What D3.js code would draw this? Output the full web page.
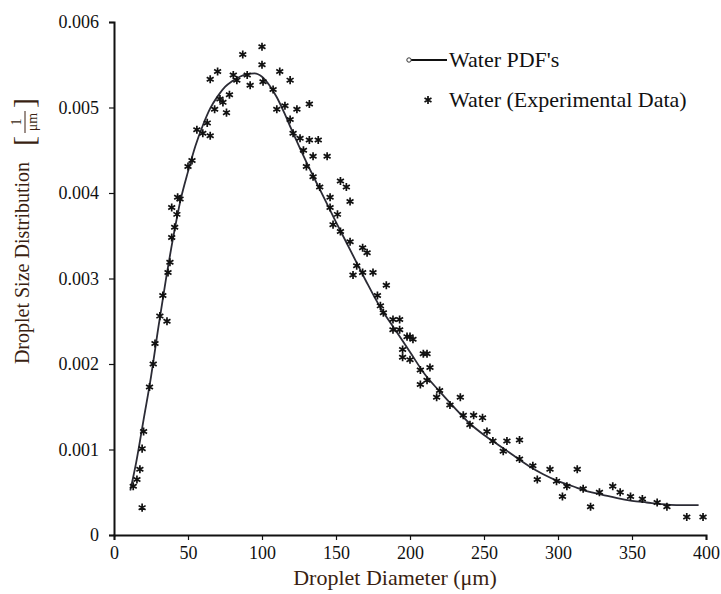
<!DOCTYPE html>
<html>
<head>
<meta charset="utf-8">
<script src="https://cdn.jsdelivr.net/npm/d3@7/dist/d3.min.js"></script>
<style>
  body { margin: 0; background: #fff; }
  svg { display: block; }
  text { font-family: "Liberation Serif", "Times New Roman", serif; }
</style>
</head>
<body>
<svg id="chart" width="721" height="594"></svg>
<script>
// Fitted distribution (line)
const fitDiameter = [11, 15, 20, 25, 30, 35, 40, 45, 50, 55, 60, 65, 70, 75, 80, 85, 90, 95, 100, 105, 110, 115, 120, 130, 140, 150, 160, 170, 180, 190, 200, 210, 220, 230, 240, 250, 260, 270, 280, 290, 300, 310, 320, 330, 340, 350, 360, 370, 380, 390, 395];
const fitDensity = [0.00052, 0.00085, 0.00135, 0.00185, 0.00243, 0.00298, 0.00348, 0.00392, 0.00425, 0.00455, 0.00479, 0.00499, 0.00513, 0.00524, 0.00531, 0.00536, 0.00539, 0.0054, 0.00536, 0.00526, 0.00512, 0.00494, 0.00474, 0.00436, 0.00401, 0.00366, 0.00332, 0.00298, 0.00266, 0.0024, 0.00214, 0.00188, 0.00168, 0.00149, 0.00131, 0.00117, 0.00105, 0.00093, 0.00081, 0.00071, 0.00063, 0.00057, 0.00051, 0.00047, 0.00043, 0.0004, 0.00038, 0.00036, 0.00035, 0.00035, 0.00035];

// Measured distribution (markers)
const expDiameter = [13, 15.5, 17.5, 19, 20, 19, 24, 26.5, 27.7, 31, 35.8, 33, 36.5, 37.8, 39, 41, 42.5, 39, 44.6, 43, 50, 52.7, 56, 60, 65, 63, 68, 73.6, 76, 71.6, 78, 65, 70, 80.6, 83, 87, 90, 92, 100, 100, 100.7, 107.5, 112, 119, 110, 115.5, 123.6, 132, 119, 121, 125.7, 132, 138, 128, 134.5, 144, 130, 134.5, 139, 153, 157, 146, 159.5, 151, 146, 148, 153, 159.5, 168, 171, 164, 168, 161.5, 175, 184, 178, 180, 182, 188.5, 193, 198, 202, 195, 200, 209, 207, 211.5, 193, 188.5, 200, 195, 211.5, 213.5, 207, 220, 218, 234, 227, 236, 243, 249, 240.5, 252, 256, 265.5, 274, 263, 274, 283, 294.6, 286, 299, 313, 306, 303, 317, 322, 328, 337, 342, 349, 357, 367, 373.6, 387, 398];
const expDensity = [0.00057, 0.00065, 0.00077, 0.00101, 0.00121, 0.00032, 0.00173, 0.0020, 0.00224, 0.00256, 0.0025, 0.0028, 0.00307, 0.00319, 0.00348, 0.0036, 0.00375, 0.00383, 0.00393, 0.00395, 0.00431, 0.00438, 0.00474, 0.0047, 0.00467, 0.00482, 0.00498, 0.00506, 0.00494, 0.0051, 0.00515, 0.00533, 0.00542, 0.00538, 0.00532, 0.00562, 0.00538, 0.00526, 0.00571, 0.0055, 0.0053, 0.00521, 0.00542, 0.00532, 0.00498, 0.00502, 0.00498, 0.00504, 0.00486, 0.0047, 0.00464, 0.00462, 0.00462, 0.0045, 0.00443, 0.00443, 0.00431, 0.00419, 0.00407, 0.00414, 0.00407, 0.00395, 0.0039, 0.00375, 0.00383, 0.00363, 0.00355, 0.00343, 0.00336, 0.0033, 0.00315, 0.00307, 0.00304, 0.00307, 0.00292, 0.0028, 0.00268, 0.0026, 0.00252, 0.0024, 0.00232, 0.00229, 0.00217, 0.00205, 0.00212, 0.00193, 0.00181, 0.00252, 0.0024, 0.00232, 0.00208, 0.00212, 0.00196, 0.00176, 0.00169, 0.00161, 0.00161, 0.00152, 0.0014, 0.0014, 0.00137, 0.00129, 0.00121, 0.0011, 0.0011, 0.00111, 0.00098, 0.00089, 0.00081, 0.00077, 0.00065, 0.00063, 0.00077, 0.00057, 0.00045, 0.00054, 0.00033, 0.0005, 0.00057, 0.0005, 0.00045, 0.00042, 0.00038, 0.00033, 0.00021, 0.00021];

const xTicks = [0, 50, 100, 150, 200, 250, 300, 350, 400];
const yTicks = [0, 0.001, 0.002, 0.003, 0.004, 0.005, 0.006];
const seriesNames = ["Water PDF's", "Water (Experimental Data)"];

const svg = d3.select("#chart");
const x = d3.scaleLinear().domain([0, 400]).range([114, 706]);
const y = d3.scaleLinear().domain([0, 0.006]).range([535, 22]);
const ink = "#111";
const titleInk = "#3a1f12";

// Axes
const xAxis = svg.append("g").attr("transform", `translate(0,${y(0)})`)
  .call(d3.axisBottom(x).tickValues(xTicks).tickFormat(d3.format("d")).tickSizeOuter(0).tickSize(5).tickPadding(6));
const yAxis = svg.append("g").attr("transform", `translate(${x(0)},0)`)
  .call(d3.axisLeft(y).tickValues(yTicks).tickFormat(d => d === 0 ? "0" : d3.format(".3f")(d)).tickSizeOuter(0).tickSize(5).tickPadding(10));
[xAxis, yAxis].forEach(g => {
  g.select(".domain").attr("stroke", ink).attr("stroke-width", 2);
  g.selectAll(".tick line").attr("stroke", ink).attr("stroke-width", 1.2);
  g.selectAll(".tick text").attr("fill", ink).style("font-size", "18px")
    .style("font-family", "'Liberation Serif', serif");
});

// Axis titles
svg.append("text")
  .attr("x", 395).attr("y", 585).attr("text-anchor", "middle")
  .attr("fill", titleInk).style("font-size", "22px")
  .text("Droplet Diameter (μm)");

const yTitle = svg.append("g").attr("transform", "translate(29,263) rotate(-90)");
yTitle.append("text")
  .attr("x", 0).attr("y", 0).attr("text-anchor", "middle")
  .attr("fill", titleInk).style("font-size", "20px")
  .text("Droplet Size Distribution");
// stacked unit fraction in brackets
const frac = yTitle.append("g").attr("transform", "translate(141,-3)");
frac.append("text").attr("x", -19).attr("y", 8).attr("text-anchor", "middle")
  .attr("fill", titleInk).style("font-size", "30px").text("[");
frac.append("text").attr("x", 19).attr("y", 8).attr("text-anchor", "middle")
  .attr("fill", titleInk).style("font-size", "30px").text("]");
frac.append("text").attr("x", 0).attr("y", -5).attr("text-anchor", "middle")
  .attr("fill", titleInk).style("font-size", "14px").text("1");
frac.append("line").attr("x1", -11).attr("x2", 11).attr("y1", -1).attr("y2", -1)
  .attr("stroke", titleInk).attr("stroke-width", 1);
frac.append("text").attr("x", 0).attr("y", 11).attr("text-anchor", "middle")
  .attr("fill", titleInk).style("font-size", "14px").text("μm");

// Fitted line
const fit = fitDiameter.map((d, i) => [d, fitDensity[i]]);
svg.append("path")
  .datum(fit)
  .attr("fill", "none").attr("stroke", "#2b2b35").attr("stroke-width", 1.8)
  .attr("d", d3.line().x(d => x(d[0])).y(d => y(d[1])).curve(d3.curveMonotoneX));

// Experimental markers
const exp = expDiameter.map((d, i) => [d, expDensity[i]]);
const marker = d3.symbol().type(d3.symbolAsterisk).size(45);
svg.append("g").selectAll("path")
  .data(exp).join("path")
  .attr("transform", d => `translate(${x(d[0])},${y(d[1])})`)
  .attr("d", marker)
  .attr("fill", "none").attr("stroke", "#111").attr("stroke-width", 1.7);

// Legend
const legend = svg.append("g");
legend.append("line").attr("x1", 408).attr("x2", 447).attr("y1", 60).attr("y2", 60)
  .attr("stroke", "#111").attr("stroke-width", 1.8);
legend.append("circle").attr("cx", 409).attr("cy", 60).attr("r", 2.2)
  .attr("fill", "#fff").attr("stroke", "#333").attr("stroke-width", 1);
legend.append("text").attr("x", 449).attr("y", 67).attr("fill", ink)
  .style("font-size", "22px").text(seriesNames[0]);
legend.append("path").attr("transform", "translate(428,100)").attr("d", marker)
  .attr("fill", "none").attr("stroke", "#111").attr("stroke-width", 1.7);
legend.append("text").attr("x", 449).attr("y", 107).attr("fill", ink)
  .style("font-size", "22px").text(seriesNames[1]);
</script>
</body>
</html>
